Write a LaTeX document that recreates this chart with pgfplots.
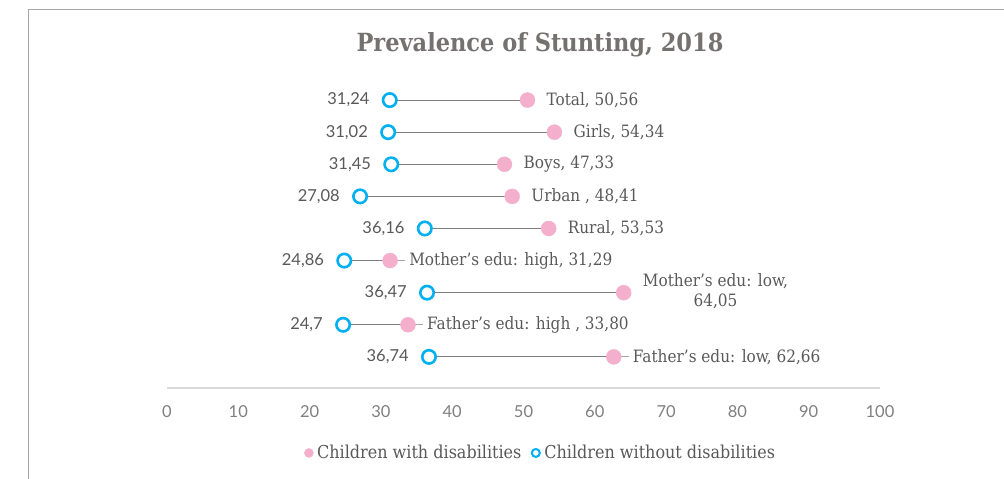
\documentclass[border=0pt]{standalone}
\usepackage{pgfplots}
\pgfplotsset{compat=1.18}
\usepackage{pgfplotstable}
\usepackage{fontspec}
\setmainfont{DejaVu Serif Condensed}
\newfontfamily\latofont{Lato}
\definecolor{pinkdot}{HTML}{F4AFCC}
\definecolor{bluering}{HTML}{00B0F0}
\definecolor{txtgray}{HTML}{595959}
\definecolor{tickgray}{HTML}{7F7F7F}
\definecolor{titlegray}{HTML}{767171}
\definecolor{axgray}{HTML}{D9D9D9}
\definecolor{linegray}{HTML}{7F7F7F}
\definecolor{leadgray}{HTML}{A6A6A6}
\definecolor{framegray}{HTML}{A6A6A6}
\newcommand\motherlow{\begin{tabular}{@{}c@{}}Mother's edu: low,\\[1pt] 64,05\end{tabular}}
\pgfplotstableread[col sep=semicolon]{
row;without;with;lwo;lw
9;31.24;50.56;31,24;Total, 50,56
8;31.02;54.34;31,02;Girls, 54,34
7;31.45;47.33;31,45;Boys, 47,33
6;27.08;48.41;27,08;Urban , 48,41
5;36.16;53.53;36,16;Rural, 53,53
4;24.86;31.29;24,86;Mother's edu: high, 31,29
3;36.47;64.05;36,47;\motherlow
2;24.70;33.80;24,7;Father's edu: high , 33,80
1;36.74;62.66;36,74;Father's edu: low, 62,66
}\data
\begin{document}
\begin{tikzpicture}
\useasboundingbox (0,0) rectangle (1004pt,479pt);
\draw[framegray, line width=1pt] (28pt,0pt) -- (28pt,469pt) -- (1004pt,469pt);
\node[anchor=base, text=titlegray, font=\fontsize{25}{29}\selectfont\bfseries] at (540pt,427pt) {Prevalence of Stunting, 2018};
\begin{axis}[
  at={(167pt,91pt)}, anchor=south west,
  scale only axis, width=713pt, height=320pt,
  xmin=0, xmax=100, ymin=0.03, ymax=10,
  axis y line=none,
  axis x line*=bottom,
  x axis line style={axgray, line width=1.3pt, -},
  xtick={0,10,...,100},
  major tick length=0pt,
  /pgf/number format/assume math mode=true,
  xticklabel style={anchor=north, inner sep=0pt, yshift=-17pt, text=tickgray, font=\latofont\fontsize{16.5}{18}\selectfont},
  clip=false,
  legend columns=2,
  legend style={at={(0.525,-0.203)}, anchor=center, draw=none, fill=none,
    font=\fontsize{17.8}{19}\selectfont, text=txtgray,
    /tikz/every even column/.append style={column sep=6pt},
    inner sep=0pt, nodes={inner sep=3.5pt}},
]
\addplot[linegray, line width=1pt, forget plot] coordinates {(31.24,9) (50.56,9)};
\addplot[linegray, line width=1pt, forget plot] coordinates {(31.02,8) (54.34,8)};
\addplot[linegray, line width=1pt, forget plot] coordinates {(31.45,7) (47.33,7)};
\addplot[linegray, line width=1pt, forget plot] coordinates {(27.08,6) (48.41,6)};
\addplot[linegray, line width=1pt, forget plot] coordinates {(36.16,5) (53.53,5)};
\addplot[linegray, line width=1pt, forget plot] coordinates {(24.86,4) (31.29,4)};
\addplot[linegray, line width=1pt, forget plot] coordinates {(36.47,3) (64.05,3)};
\addplot[linegray, line width=1pt, forget plot] coordinates {(24.70,2) (33.80,2)};
\addplot[linegray, line width=1pt, forget plot] coordinates {(36.74,1) (62.66,1)};
\addplot[only marks, color=pinkdot, mark=*, mark size=7.5pt, mark options={draw=none, fill=pinkdot},
  point meta=explicit symbolic, nodes near coords,
  every node near coord/.style={anchor=west, xshift=19pt, inner sep=0pt, text=txtgray, font=\fontsize{17}{19}\selectfont},
  legend image code/.code={\fill[pinkdot] (0pt,0pt) circle (4.5pt);}]
  table[x=with, y=row, meta=lw]{\data};
\addlegendentry{Children with disabilities}
\addplot[only marks, color=bluering, mark=*, mark size=6.7pt, mark options={draw=bluering, fill=white, line width=2.6pt},
  point meta=explicit symbolic, nodes near coords,
  every node near coord/.style={anchor=east, xshift=-19pt, inner sep=0pt, text=txtgray, font=\latofont\fontsize{16.5}{18}\selectfont},
  legend image code/.code={\draw[bluering, line width=2pt, fill=white] (0pt,0pt) circle (4pt);}]
  table[x=without, y=row, meta=lwo]{\data};
\addlegendentry{Children without disabilities}
\addplot[leadgray, line width=1pt, forget plot] coordinates {(31.29,4) (33.4,4)};
\addplot[leadgray, line width=1pt, forget plot] coordinates {(33.80,2) (35.9,2)};
\addplot[leadgray, line width=1pt, forget plot] coordinates {(62.66,1) (64.8,1)};
\end{axis}
\end{tikzpicture}
\end{document}
